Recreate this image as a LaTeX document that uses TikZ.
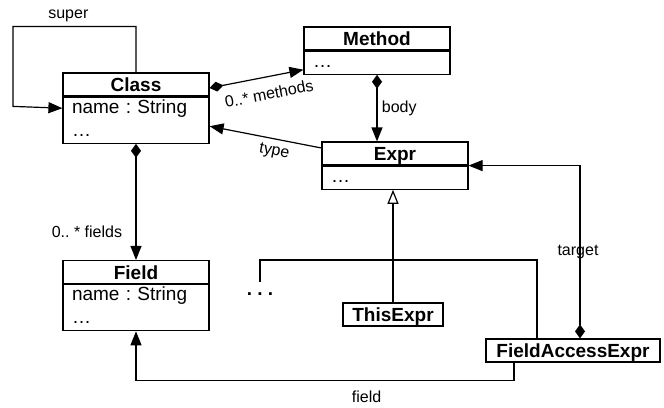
\documentclass[tikz,border=0pt]{standalone}
\usepackage{fontspec}
\setmainfont{Liberation Sans}
\frenchspacing
\usetikzlibrary{arrows.meta}
\usetikzlibrary{positioning}
\tikzset{
  head/.style= {draw, font=\fontsize{19}{23}\selectfont\bfseries, minimum width=146pt, minimum height=23pt, inner sep=0pt, text height=14.4pt, text depth=0pt},
  attrs/.style= {draw, font=\fontsize{19}{23}\selectfont, text width=128pt, inner xsep=9pt, inner ysep=0pt, align=left},
  lbl/.style= {font=\fontsize{16}{19}\selectfont},
  assoc/.style= {-{Triangle[length=14pt,width=11pt]}},
  comp/.style= {{Diamond[length=14pt,width=10pt]}-{Triangle[length=14pt,width=11pt]}},
  gen/.style= {-{Triangle[open,length=14pt,width=11pt]}},
}

\begin{document}
\begin{tikzpicture}[x=1pt, y=-1pt, line width=1.2pt]
  \useasboundingbox (0,0) rectangle (664,407);

  \node [head] (cls) at (136,84.5) {Class} ;
  \node [attrs, below=0pt of cls] (clsb) {\strut name : String\\\ldots\strut} ;
  \node [head] (mth) at (377,38.5) {Method} ;
  \node [attrs, below=0pt of mth] (mthb) {\strut\ldots} ;
  \node [head] (expr) at (395,153.5) {Expr} ;
  \node [attrs, below=0pt of expr] (exprb) {\strut\ldots} ;
  \node [head] (fld) at (136,272) {Field} ;
  \node [attrs, below=0pt of fld] (fldb) {\strut name : String\\\ldots\strut} ;
  \node [head, minimum width=100pt] (this) at (393,314.5) {ThisExpr} ;
  \node [head, minimum width=174pt] (fae) at (573,350.5) {FieldAccessExpr} ;
  \node [font=\fontsize{19}{23}\selectfont\bfseries, inner sep=0pt] (more) at (260,294) {. . .} ;

  % associations
  \draw [assoc] (cls.north) -- ++(0,-46) -- ++(-123,0) node [lbl, above=1pt, pos=0.55] {super}
    -- ++(0,80) -- ([yshift=12pt]clsb.west) ;
  \draw [comp] ([yshift=-3.5pt]cls.east) -- ([yshift=-7pt]mthb.west)
    node [lbl, below=7pt, sloped, pos=0.6] {0..* methods} ;
  \draw [assoc] ([yshift=5.5pt]expr.west) -- ([yshift=-6pt]clsb.east)
    node [lbl, below=2pt, sloped, pos=0.4] {type} ;
  \draw [comp] (mthb.south) -- (mthb.south |- expr.north) node [lbl, right=1pt, midway] {body} ;
  \draw [comp] (clsb.south) -- (fld.north) node [lbl, left=10pt, pos=0.76] {0.. * fields} ;
  \draw [comp] ([xshift=7pt]fae.north) |- (exprb.north east) node [lbl, pos=0.25, xshift=-2pt] {target} ;
  \draw [assoc] ([xshift=-59pt]fae.south) -- ++(0,18) -| (fldb.south)
    node [lbl, below=6pt, pos=0.195] {field} ;

  % subclasses
  \draw [gen] (this.north) -- (this.north |- exprb.south) ;
  \draw ([yshift=10pt]more.north) -- ++(0,-22) -| ([xshift=-36pt]fae.north) ;
\end{tikzpicture}
\end{document}
